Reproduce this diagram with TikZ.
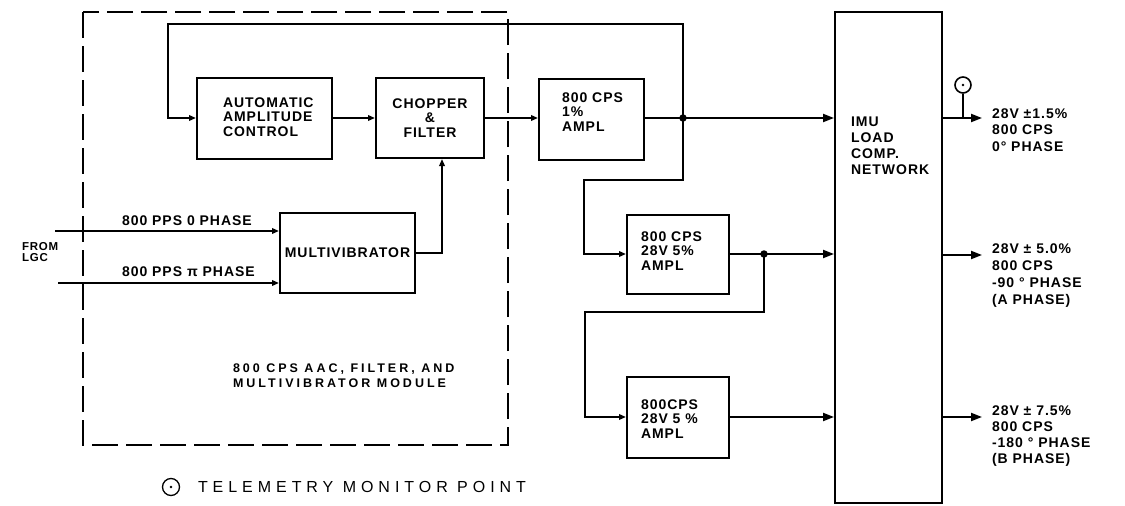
\documentclass[tikz,border=0pt]{standalone}
\usepackage{fontspec}
\setmainfont{Liberation Sans}
\usetikzlibrary{arrows.meta}
\newfontfamily\lbfam[LetterSpace=7]{Liberation Sans}
\newfontfamily\modfam[LetterSpace=24]{Liberation Sans}
\newfontfamily\telfam[LetterSpace=31]{Liberation Sans}
\tikzset{
  box/.style={draw, line width=2pt, inner sep=0pt},
  blbl/.style={inner sep=0pt, align=left, anchor=west, font={\lbfam\bfseries\fontsize{14}{14.5}\selectfont}},
  clbl/.style={align=center, font={\lbfam\bfseries\fontsize{14}{14.5}\selectfont}},
  olbl/.style={inner sep=0pt, align=left, anchor=west, font={\lbfam\bfseries\fontsize{14}{16.5}\selectfont}},
  sarr/.style={-{Triangle[length=7pt,width=5.5pt]}},
  barr/.style={-{Triangle[length=11pt,width=8pt]}},
  jdot/.style={circle, fill, inner sep=0pt, minimum size=7.5pt},
}
\begin{document}
\begin{tikzpicture}[x=1pt,y=-1pt,line width=2pt,line join=miter]
\useasboundingbox[fill=white] (0,0) rectangle (1125,506);
% module boundary
\draw[line width=1.6pt, dash pattern=on 26pt off 8pt] (83,12) rectangle (508,445);
% boxes
\node[box, minimum width=135pt, minimum height=81pt] (aac) at (264.5,118) {};
\node[box, minimum width=108pt, minimum height=80pt, clbl] (chop) at (430,118) {CHOPPER\\\&\\FILTER};
\node[box, minimum width=105pt, minimum height=81pt] (amp1) at (591.5,119) {};
\node[box, minimum width=135pt, minimum height=80pt, clbl] (mv) at (347.5,253) {MULTIVIBRATOR};
\node[box, minimum width=102pt, minimum height=79pt] (amp2) at (678,254) {};
\node[box, minimum width=102pt, minimum height=81pt] (amp3) at (678,417) {};
\node[box, minimum width=107pt, minimum height=491pt] (imu) at (888.5,257.5) {};
% box texts
\node[blbl] (taac) at (222,117) {AUTOMATIC\\AMPLITUDE\\CONTROL};
\node[blbl] (tamp1) at (561,112) {800 CPS\\1\%\\AMPL};
\node[blbl] (tamp2) at (640,251) {800 CPS\\28V 5\%\\AMPL};
\node[blbl] (tamp3) at (640,419) {800CPS\\28V 5 \%\\AMPL};
\node[olbl, font={\lbfam\bfseries\fontsize{14}{16}\selectfont}] (timu) at (850,146) {IMU\\LOAD\\COMP.\\NETWORK};
% module label
\node[inner sep=0pt, align=left, anchor=west, font={\modfam\bfseries\fontsize{12.5}{15}\selectfont}] (tmod) at (232,375.5) {800 CPS AAC, FILTER, AND\\MULTIVIBRATOR MODULE};
% inputs
\coordinate (in1) at (55,231);
\coordinate (in2) at (58,283);
\draw[sarr] (in1) -- (in1 -| mv.west);
\draw[sarr] (in2) -- (in2 -| mv.west);
\node[inner sep=0pt, anchor=west, font={\lbfam\bfseries\fontsize{14}{14}\selectfont}] (l1) at (121,221) {800 PPS 0 PHASE};
\node[inner sep=0pt, anchor=west, font={\lbfam\bfseries\fontsize{14}{14}\selectfont}] (l2) at (121,272) {800 PPS π PHASE};
\node[inner sep=0pt, align=left, anchor=west, font={\lbfam\bfseries\fontsize{11.5}{11.5}\selectfont}] (from) at (21,252) {FROM\\LGC};
% chain
\coordinate (j1) at (683,118);
\coordinate (fbR) at (683,24);
\coordinate (fbL) at (168,24);
\draw[sarr] (j1) -- (fbR) -- (fbL) |- (aac.west);
\draw[sarr] (aac.east) -- (chop.west);
\draw[sarr] (chop.east) -- (amp1.west |- chop.east);
\draw (amp1.east |- j1) -- (j1);
\draw[barr] (j1) -- (imu.west |- j1);
\node[jdot] (dot1) at (j1) {};
\coordinate (m1) at (442,253);
\draw[sarr] (mv.east) -- (m1) -- (m1 |- chop.south);
\coordinate (d1) at (683,180);
\coordinate (d2) at (584,180);
\draw[sarr] (j1) -- (d1) -- (d2) |- (amp2.west);
\coordinate (j2) at (764,254);
\draw (amp2.east) -- (j2);
\draw[barr] (j2) -- (imu.west |- j2);
\node[jdot] (dot2) at (j2) {};
\coordinate (d3) at (764,312);
\coordinate (d4) at (585,312);
\draw[sarr] (j2) -- (d3) -- (d4) |- (amp3.west);
\draw[barr] (amp3.east) -- (imu.west |- amp3.east);
% outputs
\coordinate (o1) at (982,118);
\coordinate (o2) at (982,255);
\coordinate (o3) at (982,417);
\draw[barr] (imu.east |- o1) -- (o1);
\draw[barr] (imu.east |- o2) -- (o2);
\draw[barr] (imu.east |- o3) -- (o3);
\coordinate (tp) at (963,118);
\node[draw, circle, line width=1.6pt, minimum size=16pt, inner sep=0pt] (tm) at (963,85) {};
\fill (tm.center) circle (1.4pt);
\draw (tp) -- (tm.south);
\node[olbl] (r1) at (991,130) {28V ±1.5\%\\800 CPS\\0° PHASE};
\node[olbl, font={\lbfam\bfseries\fontsize{14}{17}\selectfont}] (r2) at (991,276) {28V ± 5.0\%\\800 CPS\\-90 ° PHASE\\(A PHASE)};
\node[olbl, font={\lbfam\bfseries\fontsize{14}{16}\selectfont}] (r3) at (991,436) {28V ± 7.5\%\\800 CPS\\-180 ° PHASE\\(B PHASE)};
% legend
\node[draw, circle, line width=1.3pt, minimum size=17pt, inner sep=0pt] (lg) at (171,487) {};
\fill (lg.center) circle (1.3pt);
\node[inner sep=0pt, anchor=west, font={\telfam\fontsize{16}{17}\selectfont}] (tel) at (197,487) {TELEMETRY MONITOR POINT};
\end{tikzpicture}
\end{document}
